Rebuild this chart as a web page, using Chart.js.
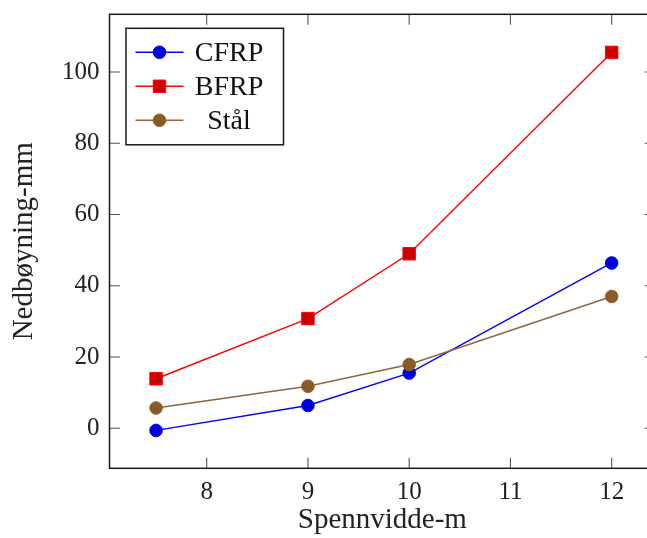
<!DOCTYPE html>
<html>
<head>
<meta charset="utf-8">
<script src="https://cdn.jsdelivr.net/npm/chart.js@4.4.1/dist/chart.umd.min.js"></script>
<style>
  html, body { margin: 0; padding: 0; background: #fff; overflow: hidden; }
  #wrap { width: 647px; height: 538px; overflow: hidden; }
</style>
</head>
<body>
<div id="wrap"><canvas id="chartNedboyning" width="665.5" height="538"></canvas></div>
<script>
// spennvidde (m) og nedbøyning (mm)
const spennvidde = [7.5, 9, 10, 12];
const cfrp = [-0.6, 6.4, 15.5, 46.4];
const bfrp = [13.9, 30.8, 49.0, 105.5];
const staal = [5.7, 11.8, 17.9, 37.0];
const xTicks = [8, 9, 10, 11, 12];
const yTicks = [0, 20, 40, 60, 80, 100];

const serif = "'Liberation Serif', 'DejaVu Serif', serif";

const toPoints = (ys) => spennvidde.map((x, i) => ({ x: x, y: ys[i] }));

// ramme rundt plottet + tick-merker som peker innover
const rammePlugin = {
	id: "ramme",
	beforeDatasetsDraw(chart) {
		const { ctx, chartArea: a, scales } = chart;
		const len = 10.5;
		ctx.save();
		ctx.strokeStyle = "#555";
		ctx.lineWidth = 1.1;
		ctx.beginPath();
		xTicks.forEach((v) => {
			const px = scales.x.getPixelForValue(v);
			ctx.moveTo(px, a.bottom);
			ctx.lineTo(px, a.bottom - len);
			ctx.moveTo(px, a.top);
			ctx.lineTo(px, a.top + len);
		});
		yTicks.forEach((v) => {
			const py = scales.y.getPixelForValue(v);
			ctx.moveTo(a.left, py);
			ctx.lineTo(a.left + len, py);
			ctx.moveTo(a.right, py);
			ctx.lineTo(a.right - len, py);
		});
		ctx.stroke();
		ctx.restore();
	},
	afterDraw(chart) {
		const { ctx, chartArea: a } = chart;
		ctx.save();
		ctx.strokeStyle = "#1a1a1a";
		ctx.lineWidth = 1.5;
		ctx.strokeRect(a.left, a.top, a.right - a.left, a.bottom - a.top);
		ctx.restore();
	},
};

// tegnforklaring oppe til venstre, linje + markør som i pgfplots
const forklaringPlugin = {
	id: "forklaring",
	afterDraw(chart) {
		const { ctx, chartArea: a } = chart;
		const boxX = a.left + 16.5;
		const boxY = a.top + 14;
		const boxW = 157.5;
		const boxH = 116.5;
		ctx.save();
		ctx.fillStyle = "#fff";
		ctx.fillRect(boxX, boxY, boxW, boxH);
		ctx.strokeStyle = "#1a1a1a";
		ctx.lineWidth = 1.5;
		ctx.strokeRect(boxX, boxY, boxW, boxH);
		chart.data.datasets.forEach((ds, i) => {
			const y = boxY + 24 + i * 34;
			const x0 = boxX + 9.5;
			ctx.strokeStyle = ds.borderColor;
			ctx.lineWidth = 1.5;
			ctx.beginPath();
			ctx.moveTo(x0, y);
			ctx.lineTo(x0 + 48, y);
			ctx.stroke();
			ctx.fillStyle = ds.pointBackgroundColor;
			ctx.strokeStyle = ds.pointBorderColor;
			ctx.lineWidth = ds.pointBorderWidth;
			ctx.beginPath();
			if (ds.pointStyle === "rect") {
				const s = ds.pointRadius * Math.SQRT1_2;
				ctx.rect(x0 + 24 - s, y - s, 2 * s, 2 * s);
			} else {
				ctx.arc(x0 + 24, y, ds.pointRadius, 0, Math.PI * 2);
			}
			ctx.fill();
			ctx.stroke();
			ctx.fillStyle = "#111";
			ctx.font = "28px " + serif;
			ctx.textAlign = "center";
			ctx.textBaseline = "middle";
			ctx.fillText(ds.label, boxX + 103, y + 1);
		});
		ctx.restore();
	},
};

const ctx = document.getElementById("chartNedboyning");
const chart = new Chart(ctx, {
	type: "line",
	data: {
		datasets: [
			{
				label: "CFRP",
				data: toPoints(cfrp),
				borderColor: "#0000ff",
				borderWidth: 1.4,
				pointStyle: "circle",
				pointRadius: 6.3,
				pointBorderWidth: 1,
				pointBackgroundColor: "#0000d6",
				pointBorderColor: "#0000ff",
				order: 3,
			},
			{
				label: "BFRP",
				data: toPoints(bfrp),
				borderColor: "#ff0000",
				borderWidth: 1.4,
				pointStyle: "rect",
				pointRadius: 8.8,
				pointBorderWidth: 1,
				pointBackgroundColor: "#cc0000",
				pointBorderColor: "#ff0000",
				order: 2,
			},
			{
				label: "Stål",
				data: toPoints(staal),
				borderColor: "#8f6640",
				borderWidth: 1.4,
				pointStyle: "circle",
				pointRadius: 6.3,
				pointBorderWidth: 1,
				pointBackgroundColor: "#8b5a2b",
				pointBorderColor: "#94622f",
				order: 1,
			},
		],
	},
	options: {
		responsive: false,
		animation: false,
		clip: false,
		layout: { padding: { left: 0, top: 14.3, right: 0, bottom: 0 } },
		plugins: {
			legend: { display: false },
			tooltip: { enabled: false },
		},
		elements: { line: { tension: 0 } },
		scales: {
			x: {
				type: "linear",
				min: 7.04,
				max: 12.43,
				afterBuildTicks: (axis) => {
					axis.ticks = xTicks.map((v) => ({ value: v }));
				},
				afterFit: (axis) => {
					axis.height = 69.7;
					axis.paddingLeft = 0;
					axis.paddingRight = 0;
				},
				grid: { display: false, drawTicks: false },
				border: { display: false },
				ticks: {
					padding: 9,
					color: "#222",
					font: { family: serif, size: 25 },
					maxRotation: 0,
				},
				title: {
					display: true,
					text: "Spennvidde-m",
					color: "#222",
					font: { family: serif, size: 29 },
					padding: { top: 2, bottom: 0 },
				},
			},
			y: {
				type: "linear",
				min: -11.23,
				max: 116.2,
				afterBuildTicks: (axis) => {
					axis.ticks = yTicks.map((v) => ({ value: v }));
				},
				afterFit: (axis) => {
					axis.width = 109.5;
					axis.paddingTop = 0;
					axis.paddingBottom = 0;
				},
				grid: { display: false, drawTicks: false },
				border: { display: false },
				ticks: {
					padding: 10,
					color: "#222",
					font: { family: serif, size: 25 },
				},
				title: {
					display: true,
					text: "Nedbøyning-mm",
					color: "#222",
					font: { family: serif, size: 29 },
					padding: { top: 7, bottom: 0 },
				},
			},
		},
	},
	plugins: [rammePlugin, forklaringPlugin],
});
</script>
</body>
</html>
